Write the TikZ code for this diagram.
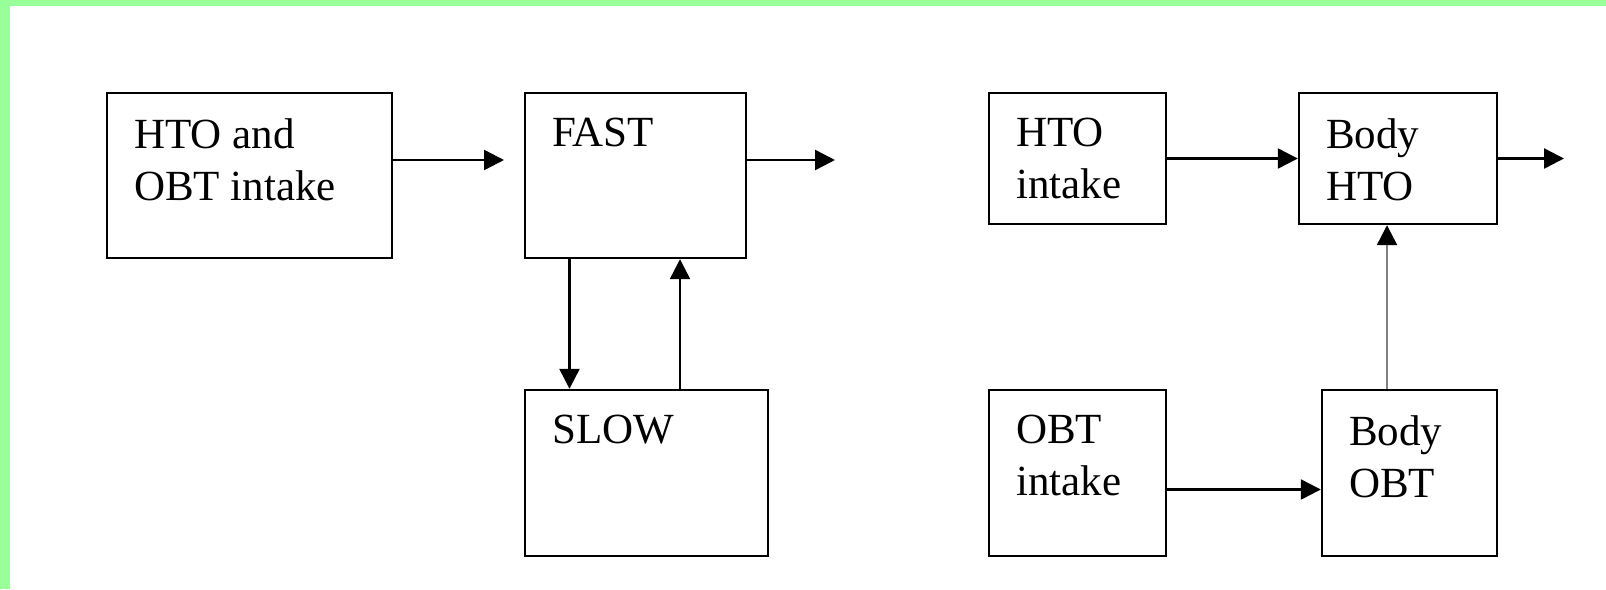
\documentclass[tikz,border=0pt]{standalone}
\usepackage{fontspec}
\setmainfont{Liberation Serif}
\usetikzlibrary{arrows.meta}
\definecolor{bordergreen}{RGB}{153,255,153}
\tikzset{
  box/.style={draw, line width=1.2pt, rectangle, inner sep=0pt},
  txt/.style={anchor=north west, align=left, inner sep=0pt, font=\fontsize{21.5}{26}\selectfont},
  arr/.style={line width=1.2pt, -{Triangle[length=10pt,width=10pt]}}
}
\begin{document}
\begin{tikzpicture}[x=0.5pt, y=-0.5pt]
    \useasboundingbox (0, 0) rectangle (1606, 589);
    \fill[bordergreen] (0, 0) rectangle (1606, 6);
    \fill[bordergreen] (0, 0) rectangle (10, 589);
    \node[box, minimum width=142.5pt, minimum height=82.5pt] (intake) at (249.5, 175.5) {};
    \node[box, minimum width=110.5pt, minimum height=82.5pt] (fast) at (635.5, 175.5) {};
    \node[box, minimum width=121.5pt, minimum height=83pt] (slow) at (646.5, 473) {};
    \node[box, minimum width=88.5pt, minimum height=65.5pt] (htoIn) at (1077.5, 158.5) {};
    \node[box, minimum width=99pt, minimum height=65.5pt] (bodyHto) at (1398, 158.5) {};
    \node[box, minimum width=88.5pt, minimum height=83pt] (obtIn) at (1077.5, 473) {};
    \node[box, minimum width=87.5pt, minimum height=83pt] (bodyObt) at (1409.5, 473) {};
    \node[txt] (intakeTxt) at ([xshift=14pt, yshift=-13pt]intake.north west) {HTO and\\OBT intake};
    \node[txt] (fastTxt) at ([xshift=14pt, yshift=-13pt]fast.north west) {FAST};
    \node[txt] (slowTxt) at ([xshift=14pt, yshift=-13pt]slow.north west) {SLOW};
    \node[txt] (htoInTxt) at ([xshift=14pt, yshift=-13pt]htoIn.north west) {HTO\\intake};
    \node[txt] (bodyHtoTxt) at ([xshift=14pt, yshift=-13pt]bodyHto.north west) {Body\\HTO};
    \node[txt] (obtInTxt) at ([xshift=14pt, yshift=-13pt]obtIn.north west) {OBT\\intake};
    \node[txt] (bodyObtTxt) at ([xshift=14pt, yshift=-13pt]bodyObt.north west) {Body\\OBT};
    \coordinate (fastIn) at (504, 160);
    \coordinate (fastOut) at (835, 160);
    \coordinate (downCol) at (569.5, 0);
    \coordinate (upCol) at (680, 0);
    \coordinate (htoOut) at (1564, 158.5);
    \coordinate (obtRow) at (0, 489.5);
    \coordinate (bodyCol) at (1387, 0);
    \draw[arr] (intake.east |- fastIn) -- (fastIn);
    \draw[arr] (fast.east |- fastOut) -- (fastOut);
    \draw[arr] (fast.south -| downCol) -- (slow.north -| downCol);
    \draw[arr] (slow.north -| upCol) -- (fast.south -| upCol);
    \draw[arr] (htoIn) -- (bodyHto);
    \draw[arr] (bodyHto) -- (htoOut);
    \draw[arr] (obtIn.east |- obtRow) -- (bodyObt.west |- obtRow);
    \draw[arr, gray, -{Triangle[length=10pt,width=10pt,black]}] (bodyObt.north -| bodyCol) -- (bodyHto.south -| bodyCol);
\end{tikzpicture}
\end{document}
